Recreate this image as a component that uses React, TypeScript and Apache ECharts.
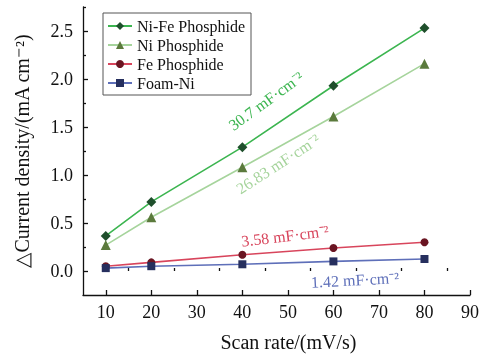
import React, { useEffect, useRef } from "react";
import * as echarts from "echarts";

const scanRates = [10, 20, 40, 60, 80];
const niFe = [0.365, 0.72, 1.29, 1.93, 2.53];
const ni = [0.27, 0.56, 1.08, 1.61, 2.16];
const fe = [0.05, 0.09, 0.17, 0.24, 0.3];
const foamNi = [0.03, 0.05, 0.07, 0.1, 0.125];

const xMajor = [10, 20, 30, 40, 50, 60, 70, 80, 90];
const xMinor = [15, 25, 35, 45, 55, 65, 75, 85];
const yMajor = [0, 0.5, 1.0, 1.5, 2.0, 2.5];
const yMinor = [0.25, 0.75, 1.25, 1.75, 2.25, 2.75];

const FONT = "Liberation Serif";

const pairs = (ys: number[]) => scanRates.map((x, i) => [x, ys[i]]);

export default function App() {
  const ref = useRef<HTMLDivElement>(null);
  useEffect(() => {
    if (!ref.current) return;
    const chart = echarts.init(ref.current, null, { renderer: "svg" });
    const mkSeries = (
      name: string,
      data: number[],
      lineColor: string,
      markColor: string,
      symbol: string,
      size: number
    ) => ({
      name,
      type: "line",
      data: pairs(data),
      symbol,
      symbolSize: size,
      lineStyle: { color: lineColor, width: 1.6 },
      itemStyle: { color: markColor },
      z: 3,
    });
    const annot = (
      text: string,
      x: number,
      y: number,
      deg: number,
      color: string
    ) => ({
      type: "text",
      x,
      y,
      rotation: (deg * Math.PI) / 180,
      style: {
        text,
        fill: color,
        fontFamily: FONT,
        fontSize: 16,
        align: "center",
        verticalAlign: "middle",
      },
    });
    chart.setOption({
      animation: false,
      grid: { left: 83, right: 16, top: 7, bottom: 60, outerBoundsMode: "none" },
      legend: {
        orient: "vertical",
        left: 103,
        top: 13,
        padding: [5, 6, 4, 4],
        itemWidth: 24,
        itemHeight: 10,
        itemGap: 3,
        borderColor: "#555",
        borderWidth: 1,
        textStyle: { fontFamily: FONT, fontSize: 16, color: "#111", lineHeight: 16 },
        data: ["Ni-Fe Phosphide", "Ni Phosphide", "Fe Phosphide", "Foam-Ni"],
      },
      xAxis: [
        {
          type: "value",
          min: 5,
          max: 90,
          interval: 5,
          name: "Scan rate/(mV/s)",
          nameLocation: "middle",
          nameGap: 37,
          nameTextStyle: { fontFamily: FONT, fontSize: 20, color: "#111", padding: [0, 0, 0, 24] },
          axisLine: { show: true, onZero: false, lineStyle: { color: "#111", width: 1.3 } },
          axisTick: { show: true, inside: true, length: 5, customValues: xMajor, lineStyle: { color: "#111", width: 1.3 } },
          axisLabel: {
            customValues: xMajor,
            fontFamily: FONT,
            fontSize: 18,
            color: "#111",
            margin: 8,
          },
          splitLine: { show: false },
        },
        {
          type: "value",
          min: 5,
          max: 90,
          interval: 5,
          position: "bottom",
          axisLine: { show: false },
          axisTick: { show: true, inside: true, length: 3, customValues: xMinor, lineStyle: { color: "#111", width: 1.3 } },
          axisLabel: { show: false },
          splitLine: { show: false },
        },
      ],
      yAxis: [
        {
          type: "value",
          min: -0.25,
          max: 2.75,
          interval: 0.25,
          name: "\u25B3Current density/(mA cm\u207B\u00B2)",
          nameLocation: "middle",
          nameGap: 51,
          nameTextStyle: { fontFamily: FONT, fontSize: 20, color: "#111" },
          axisLine: { show: true, onZero: false, lineStyle: { color: "#111", width: 1.3 } },
          axisTick: { show: true, inside: true, length: 5, customValues: yMajor, lineStyle: { color: "#111", width: 1.3 } },
          axisLabel: {
            customValues: yMajor,
            formatter: (v: number) => v.toFixed(1),
            fontFamily: FONT,
            fontSize: 18,
            color: "#111",
            margin: 10,
          },
          splitLine: { show: false },
        },
        {
          type: "value",
          min: -0.25,
          max: 2.75,
          interval: 0.25,
          position: "left",
          axisLine: { show: false },
          axisTick: { show: true, inside: true, length: 3, customValues: yMinor, lineStyle: { color: "#111", width: 1.3 } },
          axisLabel: { show: false },
          splitLine: { show: false },
        },
      ],
      series: [
        mkSeries("Ni-Fe Phosphide", niFe, "#3cb550", "#1f4f2c", "diamond", 10),
        mkSeries("Ni Phosphide", ni, "#a6d49c", "#5b7a3c", "triangle", 10),
        mkSeries("Fe Phosphide", fe, "#d8455c", "#6a1522", "circle", 8),
        mkSeries("Foam-Ni", foamNi, "#5e6fb9", "#262f5e", "rect", 8),
      ],
      graphic: [
        annot("30.7 mF\u00B7cm\u207B\u00B2", 266, 101, 36, "#3cb550"),
        annot("26.83 mF\u00B7cm\u207B\u00B2", 278, 164, 33, "#a6d49c"),
        annot("3.58 mF\u00B7cm\u207B\u00B2", 285, 236, 7, "#d8455c"),
        annot("1.42 mF\u00B7cm\u207B\u00B2", 355, 280, 3, "#5e6fb9"),
      ],
    });
    return () => chart.dispose();
  }, []);
  return (
    <div
      ref={ref}
      style={{ position: "fixed", left: 0, top: 0, width: 486, height: 355 }}
    />
  );
}
